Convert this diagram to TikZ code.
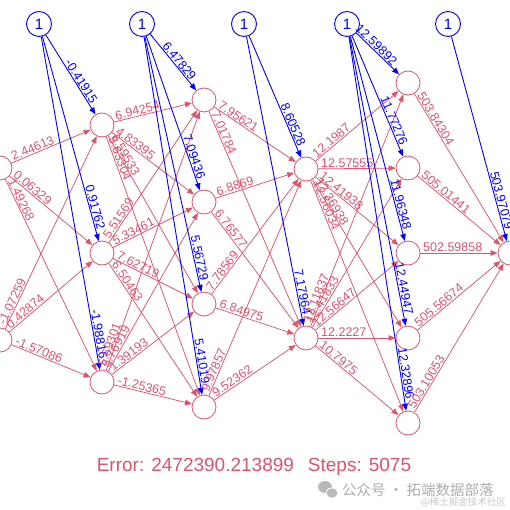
\documentclass[tikz,border=0pt]{standalone}
\usepackage{fontspec}
\setmainfont{Liberation Sans}
\newfontfamily\cjk{Noto Sans CJK SC}
\usetikzlibrary{arrows.meta,calc}
\definecolor{nnred}{HTML}{DF536B}
\definecolor{nnblue}{HTML}{0000FF}
\newcommand\nnw[3]{\draw[redge] (#1) -- (#2);
  \path ($(#1)!14pt!(#2)$) -- (#2) node[wlab,pos=0,anchor=south west]{#3};}
\newcommand\nnb[3]{\draw[bedge] (#1) -- (#2);
  \path (#1) -- ($(#2)!22pt!(#1)$) node[blab,pos=1,anchor=south east]{#3};}
\begin{document}
\begin{tikzpicture}[x=1pt,y=-1pt,
  neuron/.style={circle,draw=nnred,minimum size=24pt,inner sep=0pt,line width=0.8pt},
  biasnode/.style={circle,draw=nnblue,text=nnblue,minimum size=25pt,inner sep=0pt,line width=0.9pt,font=\fontsize{15}{15}\selectfont},
  redge/.style={draw=nnred,line width=0.75pt,-{Triangle[length=7pt,width=5.5pt]}},
  bedge/.style={draw=nnblue,line width=0.9pt,-{Triangle[length=7pt,width=5.5pt]}},
  wlab/.style={sloped,inner sep=1pt,font=\fontsize{12.5}{13}\selectfont,text=nnred},
  blab/.style={sloped,inner sep=1pt,font=\fontsize{12.5}{13}\selectfont,text=nnblue},
  mark1/.style={font=\fontsize{19}{20}\selectfont,text=nnred,inner sep=0pt},
  wm/.style={inner sep=0pt,text=gray!65},
]
\useasboundingbox (0,0) rectangle (510,510);
\clip (0,0) rectangle (510,510);
% nodes
\node[neuron] (i1) at (0,168) {};
\node[neuron] (i2) at (0,340) {};
\node[neuron] (h11) at (102,125) {};
\node[neuron] (h12) at (102,253) {};
\node[neuron] (h13) at (102,382) {};
\node[neuron] (h21) at (204,100) {};
\node[neuron] (h22) at (204,202) {};
\node[neuron] (h23) at (204,304) {};
\node[neuron] (h24) at (204,407) {};
\node[neuron] (h31) at (306,169) {};
\node[neuron] (h32) at (306,338) {};
\node[neuron] (h41) at (408,83) {};
\node[neuron] (h42) at (408,168) {};
\node[neuron] (h43) at (408,253) {};
\node[neuron] (h44) at (408,338) {};
\node[neuron] (h45) at (408,423) {};
\node[neuron] (o) at (510,253) {};
\node[biasnode] (b1) at (39,24) {1};
\node[biasnode] (b2) at (142,24) {1};
\node[biasnode] (b3) at (244,24) {1};
\node[biasnode] (b4) at (347,24) {1};
\node[biasnode] (b5) at (448,24) {1};
% input -> hidden 1
\nnw{i1}{h11}{2.44613}
\nnw{i1}{h12}{0.06329}
\nnw{i1}{h13}{1.49268}
\nnw{i2}{h11}{-1.07259}
\nnw{i2}{h12}{0.42874}
\nnw{i2}{h13}{-1.57086}
\nnb{b1}{h11}{-0.41915}
\nnb{b1}{h12}{0.91762}
\nnb{b1}{h13}{-1.98816}
% hidden 1 -> hidden 2
\nnw{h11}{h21}{6.94254}
\nnw{h11}{h22}{4.83395}
\nnw{h11}{h23}{6.59533}
\nnw{h11}{h24}{5.63304}
\nnw{h12}{h21}{5.51569}
\nnw{h12}{h22}{5.33461}
\nnw{h12}{h23}{7.62719}
\nnw{h12}{h24}{6.50463}
\nnw{h13}{h21}{5.69301}
\nnw{h13}{h22}{5.76919}
\nnw{h13}{h23}{1.39193}
\nnw{h13}{h24}{-1.25365}
\nnb{b2}{h21}{6.47829}
\nnb{b2}{h22}{7.09436}
\nnb{b2}{h23}{5.56729}
\nnb{b2}{h24}{5.41019}
% hidden 2 -> hidden 3
\nnw{h21}{h31}{7.95621}
\nnw{h21}{h32}{7.01784}
\nnw{h22}{h31}{6.8869}
\nnw{h22}{h32}{6.76577}
\nnw{h23}{h31}{7.78569}
\nnw{h23}{h32}{6.84975}
\nnw{h24}{h31}{9.97857}
\nnw{h24}{h32}{9.52362}
\nnb{b3}{h31}{8.60528}
\nnb{b3}{h32}{7.17964}
% hidden 3 -> hidden 4
\nnw{h31}{h41}{12.1987}
\nnw{h31}{h42}{12.57555}
\nnw{h31}{h43}{12.41938}
\nnw{h31}{h44}{12.36938}
\nnw{h31}{h45}{12.56034}
\nnw{h32}{h41}{12.11837}
\nnw{h32}{h42}{12.41833}
\nnw{h32}{h43}{12.56647}
\nnw{h32}{h44}{12.2227}
\nnw{h32}{h45}{10.7975}
\nnb{b4}{h41}{12.59892}
\nnb{b4}{h42}{11.77276}
\nnb{b4}{h43}{11.96348}
\nnb{b4}{h44}{12.44947}
\nnb{b4}{h45}{12.32896}
% hidden 4 -> output
\nnw{h41}{o}{503.84304}
\nnw{h42}{o}{505.01441}
\nnw{h43}{o}{502.59858}
\nnw{h44}{o}{505.56674}
\nnw{h45}{o}{503.10053}
\nnb{b5}{o}{503.97079}
% info
\node[mark1] (err) at (254,467) {Error: 2472390.213899\hspace{14pt}Steps: 5075};
% watermark
\node[wm,font=\cjk\fontsize{14.5}{14.5}\selectfont,anchor=west] (wm1) at (342,490) {公众号 · 拓端数据部落};
\node[wm,font=\cjk\fontsize{9.5}{10}\selectfont,text=gray!45,anchor=east] (wm2) at (506,502) {@稀土掘金技术社区};
\fill[gray!55] (325,487) ellipse (7pt and 6pt);
\fill[gray!55,draw=white,line width=0.8pt] (332,493) ellipse (6pt and 5pt);
\end{tikzpicture}
\end{document}
